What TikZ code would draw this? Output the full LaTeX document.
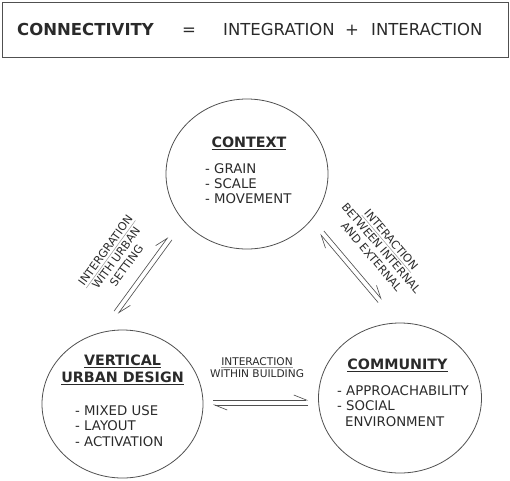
\documentclass[tikz,border=0pt]{standalone}
\usepackage{fontspec}
\setmainfont{DejaVu Sans}
\usetikzlibrary{shapes.geometric,arrows.meta,calc}
\definecolor{txt}{HTML}{2A2A2A}
\definecolor{edge}{HTML}{505050}
\definecolor{ulg}{HTML}{9A9A9A}
\newsavebox\ulbox
\newcommand\ulin[3]{\sbox\ulbox{#3}\leavevmode\rlap{\color{#1}\rule[-2.8pt]{\wd\ulbox}{#2}}\usebox\ulbox}
\begin{document}
\begin{tikzpicture}[x=1pt,y=1pt,
  circ/.style={draw=edge,line width=0.8pt,ellipse,inner sep=0pt},
  hdtext/.style={font=\fontsize{16.5}{18}\selectfont,text=txt,anchor=base west,inner sep=0pt},
  head/.style={font=\fontsize{14.3}{16}\selectfont\bfseries,text=txt,anchor=base,inner sep=0pt},
  item/.style={font=\fontsize{13.3}{15.5}\selectfont,text=txt,anchor=base west,inner sep=0pt},
  lab/.style={font=\fontsize{10.6}{12}\selectfont,text=txt,anchor=base,inner sep=0pt},
  dlab/.style={font=\fontsize{11.2}{13}\selectfont,text=txt,align=center,inner sep=0pt},
  harp/.style={draw=edge,line width=0.65pt,-{Straight Barb[left,length=12.5pt,width=10pt]}},
]
\useasboundingbox (0,0) rectangle (510,-480);
% header
\node[draw=edge,line width=0.8pt,minimum width=506pt,minimum height=55pt,anchor=north west,inner sep=0pt] (hdr) at (2,-2) {};
\node[hdtext,font=\fontsize{16.5}{18}\selectfont\bfseries] (conn) at (17,-35) {CONNECTIVITY};
\node[hdtext,anchor=base] (eq) at (189,-35) {=};
\node[hdtext] (integ) at (223,-35) {INTEGRATION};
\node[hdtext,anchor=base] (plus) at (352,-35) {+};
\node[hdtext] (inter) at (371,-35) {INTERACTION};
% circles
\node[circ,minimum width=162pt,minimum height=150pt] (ctx) at (247,-174) {};
\node[circ,minimum width=161pt,minimum height=148pt] (vud) at (122.5,-404) {};
\node[circ,minimum width=163pt,minimum height=150pt] (com) at (400,-398) {};
% context text
\node[head] (ctxh) at (249,-147) {\ulin{txt}{0.8pt}{CONTEXT}};
\node[item] (c1) at (205,-173) {- GRAIN};
\node[item] (c2) at (205,-188) {- SCALE};
\node[item] (c3) at (205,-203) {- MOVEMENT};
% vertical urban design text
\node[head] (vh1) at (122.5,-365) {\ulin{txt}{0.8pt}{VERTICAL}};
\node[head] (vh2) at (122.5,-382) {\ulin{txt}{0.8pt}{URBAN DESIGN}};
\node[item] (v1) at (75,-415) {- MIXED USE};
\node[item] (v2) at (75,-430.5) {- LAYOUT};
\node[item] (v3) at (75,-446) {- ACTIVATION};
% community text
\node[head] (comh) at (397.5,-369) {\ulin{txt}{0.8pt}{COMMUNITY}};
\node[item] (m1) at (337,-395) {- APPROACHABILITY};
\node[item] (m2) at (337,-410.5) {- SOCIAL};
\node[item] (m3) at (345,-426) {ENVIRONMENT};
% horizontal label
\node[lab] (hl1) at (257,-365) {\ulin{ulg}{0.5pt}{INTERACTION}};
\node[lab] (hl2) at (257,-377) {WITHIN BUILDING};
% diagonal labels
\node[dlab,rotate=54] (ll) at (116,-258) {\ulin{ulg}{0.5pt}{INTERGRATION}\\WITH URBAN\\SETTING};
\node[dlab,rotate=-49.5] (rl) at (381.5,-248) {\ulin{ulg}{0.5pt}{INTERACTION}\\BETWEEN INTERNAL\\AND EXTERNAL};
% arrow pairs
\coordinate (hA) at (213,-402.5);
\coordinate (hB) at (308,-402.5);
\draw[harp] ($(hA)!2.5pt!90:(hB)$) -- ($(hB)!2.5pt!-90:(hA)$);
\draw[harp] ($(hB)!2.5pt!90:(hA)$) -- ($(hA)!2.5pt!-90:(hB)$);
\coordinate (lA) at (116,-312.5);
\coordinate (lB) at (170,-238.5);
\draw[harp] ($(lA)!2.4pt!90:(lB)$) -- ($(lB)!2.4pt!-90:(lA)$);
\draw[harp] ($(lB)!2.4pt!90:(lA)$) -- ($(lA)!2.4pt!-90:(lB)$);
\coordinate (rA) at (380,-301);
\coordinate (rB) at (322,-232.5);
\draw[harp] ($(rA)!2.4pt!90:(rB)$) -- ($(rB)!2.4pt!-90:(rA)$);
\draw[harp] ($(rB)!2.4pt!90:(rA)$) -- ($(rA)!2.4pt!-90:(rB)$);
\end{tikzpicture}
\end{document}
